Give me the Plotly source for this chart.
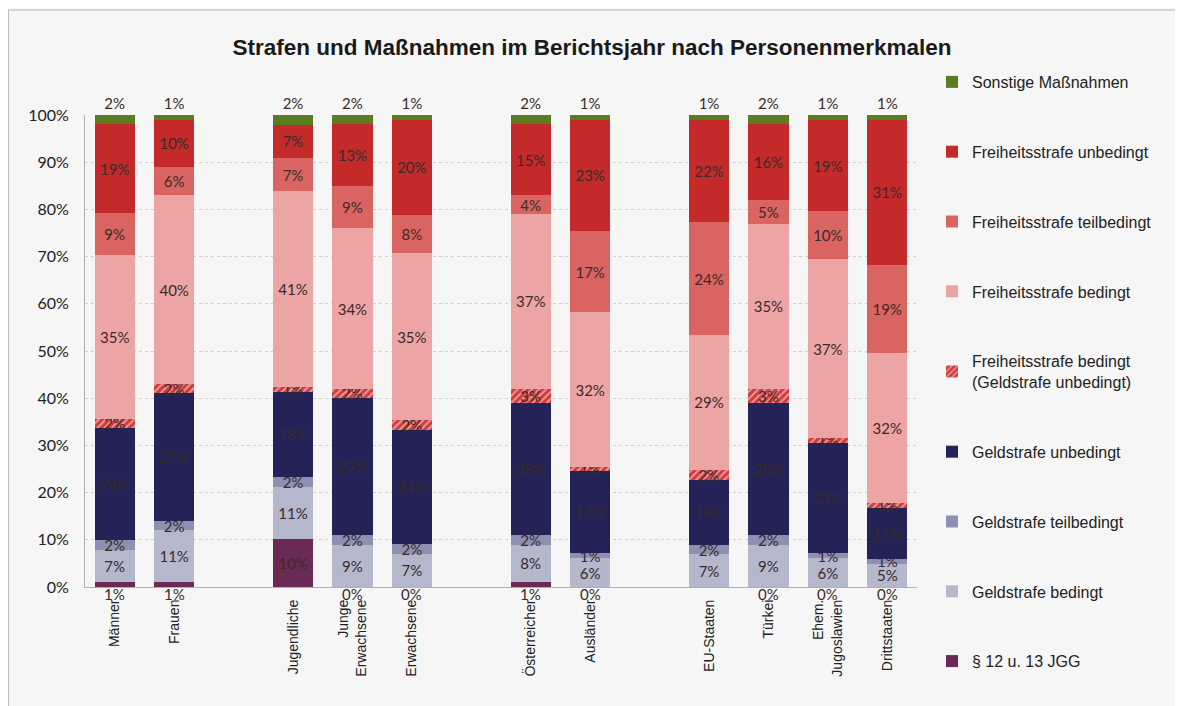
import plotly.graph_objects as go

categories = ["Männer", "Frauen", "Jugendliche", "Junge<br>Erwachsene", "Erwachsene",
              "Österreicher", "Ausländer", "EU-Staaten", "Türkei", "Ehem.<br>Jugoslawien", "Drittstaaten"]
groups = [0, 0, 1, 1, 1, 2, 2, 3, 3, 3, 3]

# series, bottom to top (values in %)
jgg          = [1, 1, 10, 0, 0, 1, 0, 0, 0, 0, 0]
geld_bed     = [7, 11, 11, 9, 7, 8, 6, 7, 9, 6, 5]
geld_teil    = [2, 2, 2, 2, 2, 2, 1, 2, 2, 1, 1]
geld_unbed   = [24, 27, 18, 29, 24, 28, 17, 14, 28, 23, 11]
fs_bed_gu    = [2, 2, 1, 2, 2, 3, 1, 2, 3, 1, 1]
fs_bed       = [35, 40, 41, 34, 35, 37, 32, 29, 35, 37, 32]
fs_teil      = [9, 6, 7, 9, 8, 4, 17, 24, 5, 10, 19]
fs_unbed     = [19, 10, 7, 13, 20, 15, 23, 22, 16, 19, 31]
sonstige     = [2, 1, 2, 2, 1, 2, 1, 1, 2, 1, 1]
jgg_label_hidden = ["EU-Staaten"]

series = [
    ("§ 12 u. 13 JGG", jgg, "#6b2a55"),
    ("Geldstrafe bedingt", geld_bed, "#b5b7cc"),
    ("Geldstrafe teilbedingt", geld_teil, "#8d90b0"),
    ("Geldstrafe unbedingt", geld_unbed, "#232357"),
    ("Freiheitsstrafe bedingt<br>(Geldstrafe unbedingt)", fs_bed_gu, "#d23c3c"),
    ("Freiheitsstrafe bedingt", fs_bed, "#eda4a4"),
    ("Freiheitsstrafe teilbedingt", fs_teil, "#da6462"),
    ("Freiheitsstrafe unbedingt", fs_unbed, "#c42a2a"),
    ("Sonstige Maßnahmen", sonstige, "#5b7d22"),
]

# slot positions: one empty slot between groups
xpos = [i + g for i, g in enumerate(groups)]

fig = go.Figure()
label_font = dict(family="Lato, Open Sans, sans-serif", size=15, color="#3a2a2a")
n = len(series)
for k, (name, vals, col) in enumerate(series):
    if k == 0:
        texts = ["%d%%" % v if v >= 3 else "" for v in vals]
    else:
        texts = ["%d%%" % v for v in vals]
    marker = dict(color=col, line=dict(width=0))
    if k == 4:
        marker["pattern"] = dict(shape="/", fgcolor="#ffffff", bgcolor=col, size=5, solidity=0.35)
    fig.add_trace(go.Bar(
        x=xpos, y=vals, name=name, marker=marker,
        text=texts,
        textposition="outside" if k == n - 1 else "inside",
        insidetextanchor="middle",
        textfont=label_font, outsidetextfont=label_font, insidetextfont=label_font,
        cliponaxis=False, legendgroup=name, legendrank=n - k,
        hoverinfo="skip",
    ))

# labels for thin §12 segments below the bars
for x, v, c in zip(xpos, jgg, categories):
    if v < 3 and c not in jgg_label_hidden:
        fig.add_annotation(x=x, y=0, xref="x", yref="y", text="%d%%" % v,
                           showarrow=False, yanchor="middle", yshift=-7,
                           font=label_font)

fig.update_layout(
    width=1175, height=698,
    barmode="stack", barnorm="percent", bargap=0.32,
    paper_bgcolor="#f6f6f6", plot_bgcolor="#f6f6f6",
    margin=dict(l=77, r=266, t=107, b=119),
    title=dict(text="<b>Strafen und Maßnahmen im Berichtsjahr nach Personenmerkmalen</b>",
               x=0.497, xanchor="center", y=0.944, yanchor="middle",
               font=dict(family="Liberation Sans, Arial, sans-serif", size=22.5, color="#1a1a1a")),
    legend=dict(x=1.018, y=1.106, xanchor="left", yanchor="top",
                traceorder="grouped", tracegroupgap=46, maxheight=690,
                font=dict(family="Liberation Sans, Arial, sans-serif", size=16, color="#222222"),
                bgcolor="rgba(0,0,0,0)"),
    uniformtext=dict(minsize=15, mode="show"),
    showlegend=True,
)
fig.update_xaxes(
    range=[-0.5, max(xpos) + 0.5],
    tickmode="array", tickvals=xpos, ticktext=categories, tickangle=-90,
    tickfont=dict(family="Liberation Sans, Arial, sans-serif", size=14, color="#222222"),
    showgrid=False, zeroline=False, showline=True, linecolor="#b0b0b0", linewidth=1,
    ticks="outside", ticklen=6, tickcolor="rgba(0,0,0,0)",
)
fig.update_yaxes(
    range=[0, 100], tickvals=list(range(0, 101, 10)),
    ticktext=["%d%%" % v for v in range(0, 101, 10)],
    tickfont=dict(family="Lato, Open Sans, sans-serif", size=16, color="#222222"),
    showgrid=True, gridcolor="#d0d0d0", griddash="dot", gridwidth=1,
    zeroline=False, showline=True, linecolor="#b0b0b0", linewidth=1,
    ticks="outside", ticklen=12, tickcolor="rgba(0,0,0,0)",
)
fig.add_shape(type="rect", xref="paper", yref="paper",
              x0=-0.092, y0=-0.5, x1=1.5, y1=1.2225,
              line=dict(color="#b8b8b8", width=1), fillcolor="rgba(0,0,0,0)", layer="below")

fig.write_html("out.html")
